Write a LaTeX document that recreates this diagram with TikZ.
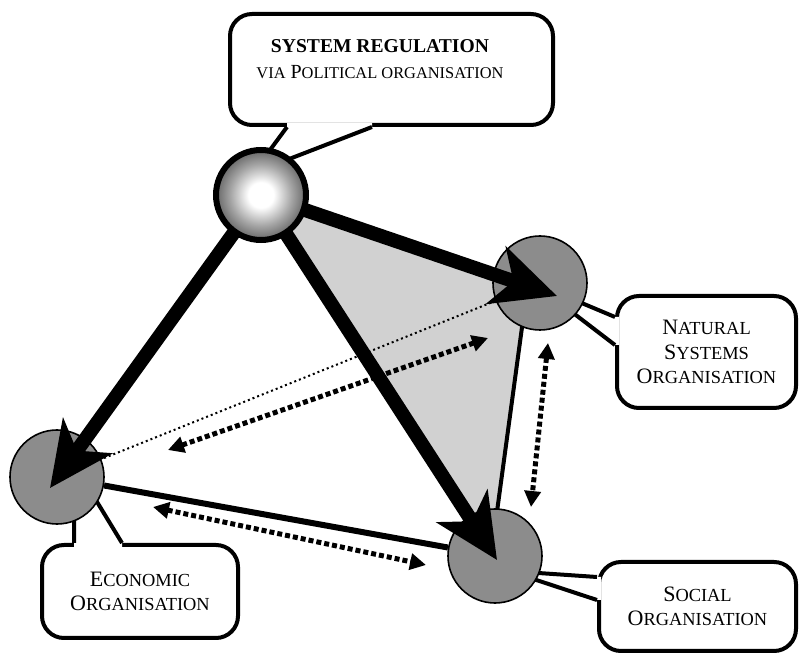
\documentclass[tikz,border=0pt]{standalone}
\usepackage{fontspec}
\setmainfont{Liberation Serif}
\usetikzlibrary{arrows.meta,calc,backgrounds}
\pgfdeclarelayer{front}
\pgfsetlayers{background,main,front}
\pgfdeclareradialshading{globe}{\pgfpoint{0bp}{0bp}}{color(0bp)=(white); color(7bp)=(white); color(17bp)=(black!35); color(25bp)=(black!60); color(50bp)=(black!60)}
\newcommand{\lsc}[1]{{\fontsize{8.2}{10}\selectfont #1}}
\newcommand{\osc}[1]{{\fontsize{9.2}{10}\selectfont #1}}

\begin{document}
\begin{tikzpicture}[x=.5pt, y=.5pt, line join=round, font=\fontsize{10}{12.5}\selectfont]
   \tikzstyle{org}=[circle, draw=black, line width=.8pt, fill=black!45, minimum size=47pt, inner sep=0pt]
   \tikzstyle{sphere}=[circle, draw=black, line width=3pt, shading=globe, minimum size=45pt, inner sep=0pt]
   \tikzstyle{bubble}=[rectangle, rounded corners=11pt, draw=black, line width=2pt, fill=white, align=center, font=\fontsize{11}{12.3}\selectfont]
   \tikzstyle{pointer}=[draw=black, line width=2pt]
   \tikzstyle{control}=[line width=7pt, -{Stealth[length=32pt, width=30pt, inset=9pt]}]
   \tikzstyle{exchange}=[line width=2.5pt, dash pattern=on 2.5pt off 1.5pt, {Triangle[length=8pt, width=8pt]}-{Triangle[length=8pt, width=8pt]}]
   \tikzstyle{link}=[line width=1pt, dash pattern=on 1pt off 1.5pt]

   \useasboundingbox (0,0) rectangle (800,655);

   \begin{pgfonlayer}{front}
   \node[sphere] (reg) at (261,460) {};
   \end{pgfonlayer}
   \node[org] (nat) at (540,372) {};
   \node[org] (eco) at (57,178) {};
   \node[org] (soc) at (495,99) {};

   \draw[control] (reg.center) -- ($(nat)+(17,-13)$);
   \draw[control] (reg.center) -- ($(eco)+(-7,-11)$);
   \draw[control] (reg.center) -- ($(soc)+(2,-4)$);

   % exchanges between the three organisations
   \coordinate (ne1) at (488,317);
   \coordinate (ne2) at (168,205);
   \coordinate (ns1) at (548,312);
   \coordinate (ns2) at (531,148);
   \coordinate (es1) at (153,148);
   \coordinate (es2) at (426,90);
   \draw[exchange] (ne1) -- (ne2);
   \draw[exchange] (ns1) -- (ns2);
   \draw[exchange] (es1) -- (es2);

   \begin{scope}[on background layer]
   \fill[black!18] (reg.center) -- ($(nat)+(-12,0)$) -- ($(soc)+(-4,0)$) -- cycle;
   \draw[line width=2pt] ($(nat)+(-12,0)$) -- ($(soc)+(-4,0)$);
   \draw[line width=3pt] (eco) -- (soc);
   \draw[link] (nat) -- (eco);

   % call-outs
   \node[bubble, minimum width=161.5pt, minimum height=55.5pt] (regbox) at (391.5,585.5) {};
   \node (regtext) [align=center] at (380,596) {{\fontsize{9.8}{13}\selectfont\bfseries SYSTEM REGULATION}\\[.5pt]\lsc{VIA} P\lsc{OLITICAL ORGANISATION}};
   \node[bubble, minimum width=89.5pt, minimum height=56pt] (natbox) at (706.5,303) {N\osc{ATURAL}\\S\osc{YSTEMS}\\O\osc{RGANISATION}};
   \node[bubble, minimum width=98pt, minimum height=46.5pt] (ecobox) at (140,63.5) {E\osc{CONOMIC}\\O\osc{RGANISATION}};
   \node[bubble, minimum width=98.5pt, minimum height=44.5pt] (socbox) at (697.5,48.5) {S\osc{OCIAL}\\O\osc{RGANISATION}};

   \fill[white] ($(regbox.south west)+(59,4)$) -- ($(regbox.south west)+(59,0)$) -- ($(reg)+(-8,22)$) -- ($(regbox.south west)+(144,0)$) -- ($(regbox.south west)+(144,4)$) -- cycle;
   \draw[pointer] ($(regbox.south west)+(59,0)$) -- ($(reg)+(-8,22)$) -- ($(regbox.south west)+(144,0)$);

   \fill[white] ($(natbox.north west)+(4,-23)$) -- ($(natbox.north west)+(0,-23)$) -- ($(nat)+(-6,0)$) -- ($(natbox.north west)+(0,-51)$) -- ($(natbox.north west)+(4,-51)$) -- cycle;
   \draw[pointer] ($(natbox.north west)+(0,-23)$) -- ($(nat)+(-6,0)$) -- ($(natbox.north west)+(0,-51)$);

   \fill[white] ($(ecobox.north west)+(34,-4)$) -- ($(ecobox.north west)+(34,0)$) -- ($(eco)+(17,13)$) -- ($(ecobox.north west)+(82,0)$) -- ($(ecobox.north west)+(82,-4)$) -- cycle;
   \draw[pointer] ($(ecobox.north west)+(34,0)$) -- ($(eco)+(17,13)$) -- ($(ecobox.north west)+(82,0)$);

   \fill[white] ($(socbox.north west)+(4,-17)$) -- ($(socbox.north west)+(0,-17)$) -- ($(soc)+(14,-15)$) -- ($(socbox.north west)+(0,-40)$) -- ($(socbox.north west)+(4,-40)$) -- cycle;
   \draw[pointer] ($(socbox.north west)+(0,-17)$) -- ($(soc)+(14,-15)$) -- ($(socbox.north west)+(0,-40)$);
   \end{scope}
\end{tikzpicture}
\end{document}
